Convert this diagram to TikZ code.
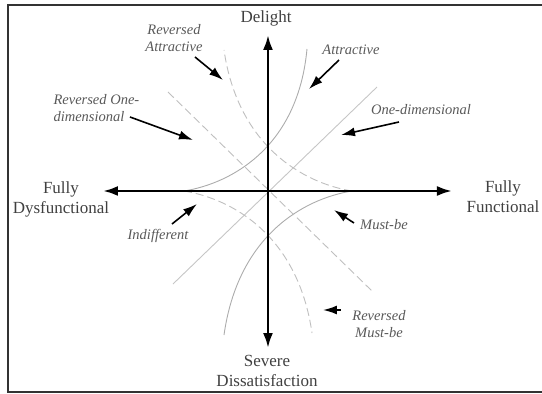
\documentclass[tikz,border=0pt]{standalone}
\usepackage{fontspec}
\setmainfont{Liberation Serif}
\usetikzlibrary{arrows.meta}

\begin{document}
\begin{tikzpicture}[x=1pt,y=1pt,
    axis/.style={line width=2.6pt, {Latex[length=15pt,width=10pt]}-{Latex[length=15pt,width=10pt]}},
    ejelabel/.style={text=black!75, align=center, font=\fontsize{17}{20}\selectfont},
    tipo/.style={text=black!65, align=center, font=\fontsize{14.5}{17}\selectfont\itshape},
    flecha/.style={line width=1.6pt, -{Latex[length=14pt,width=9pt]}},
    curva/.style={gray!65, line width=0.9pt},
    curvarev/.style={gray!50, line width=0.9pt, dash pattern=on 8pt off 4pt}] % Origen en el cruce de los ejes

    \useasboundingbox (-268,191) rectangle (274,-203);

    % Marco
    \draw[black!80, line width=1.1pt] (290,186) -- (-260,186) -- (-260,-201) -- (290,-201);

    % Curvas de Kano
    \draw[curva] (-84,0) .. controls (-35,8) and (30,45) .. (39,142);       % Attractive
    \draw[curva] (84,0) .. controls (35,-8) and (-30,-45) .. (-44,-144);    % Must-be
    \draw[curva, gray!45] (-95,-93) -- (109,104);                            % One-dimensional
    \draw[curvarev] (84,0) .. controls (35,8) and (-30,45) .. (-44,141);    % Reversed Attractive
    \draw[curvarev] (-84,0) .. controls (-35,-8) and (30,-45) .. (44,-142); % Reversed Must-be
    \draw[curvarev] (-100,99) -- (104,-100);                                 % Reversed One-dimensional

    % Ejes
    \coordinate (W) at (-165,0);
    \coordinate (E) at (184,0);
    \coordinate (N) at (0,156);
    \coordinate (S) at (0,-157);
    \draw[axis] (W) -- (E);
    \draw[axis] (S) -- (N);

    % Etiquetas de los ejes
    \node[ejelabel] (delight) at (-2,173) {Delight};
    \node[ejelabel] (dysf) at (-207,-8) {Fully\\Dysfunctional};
    \node[ejelabel] (func) at (235,-6) {Fully\\Functional};
    \node[ejelabel] (severe) at (-1,-180) {Severe\\Dissatisfaction};

    % Etiquetas de las curvas
    \node[tipo] (revatr) at (-94,153) {Reversed\\Attractive};
    \node[tipo, align=left, anchor=west] (revone) at (-218,82.5) {Reversed One-\\dimensional};
    \node[tipo] (atr) at (83,141) {Attractive};
    \node[tipo] (onedim) at (153,81) {One-dimensional};
    \node[tipo] (mustbe) at (116,-34) {Must-be};
    \node[tipo] (revmust) at (111,-133.5) {Reversed\\Must-be};
    \node[tipo] (indif) at (-110,-45) {Indifferent};

    % Flechas
    \coordinate (revatrT) at (-73,134);  \coordinate (revatrP) at (-45,111);
    \coordinate (revoneT) at (-138,74);  \coordinate (revoneP) at (-75,51);
    \coordinate (atrT) at (71,131);      \coordinate (atrP) at (41,102);
    \coordinate (onedimT) at (131,69);   \coordinate (onedimP) at (73,56);
    \coordinate (mustbeT) at (86,-32);   \coordinate (mustbeP) at (66,-19);
    \coordinate (revmustT) at (73,-119); \coordinate (revmustP) at (55,-119);
    \coordinate (indifT) at (-96,-33);   \coordinate (indifP) at (-71,-13);
    \foreach \n in {revatr,revone,atr,onedim,mustbe,revmust,indif}
        \draw[flecha] (\n T) -- (\n P);

\end{tikzpicture}
\end{document}
